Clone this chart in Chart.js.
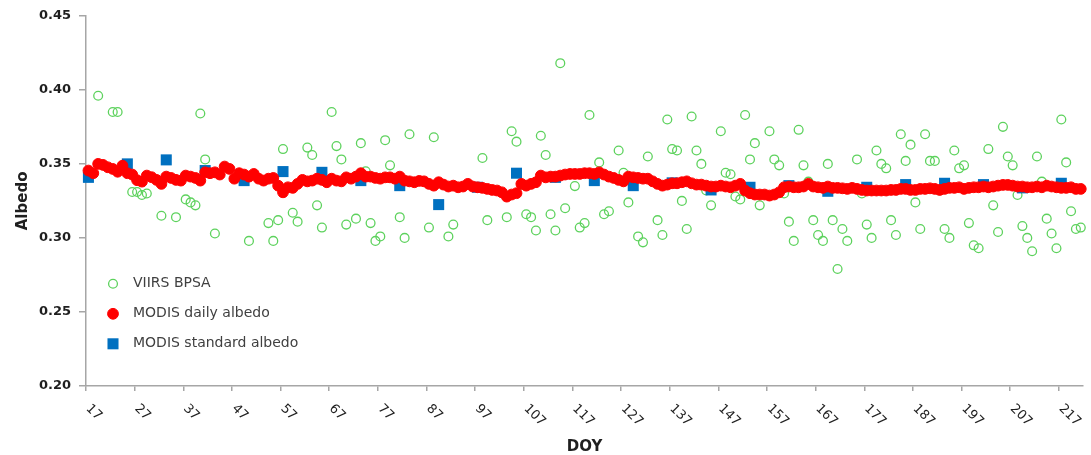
<!DOCTYPE html>
<html><head><meta charset="utf-8">
<script src="https://cdn.jsdelivr.net/npm/chart.js@4/dist/chart.umd.min.js"></script>
<style>html,body{margin:0;padding:0;background:#fff;} #wrap{width:1091px;height:455px;position:relative;}</style>
</head><body><div id="wrap"><canvas id="c"></canvas></div>
<script>
// ---- data ----
const xTickLabels = [17,27,37,47,57,67,77,87,97,107,117,127,137,147,157,167,177,187,197,207,217];
const yTicks = [0.20,0.25,0.30,0.35,0.40,0.45];

const viirsDoy = [19,22,23,26,27,28,29,32,35,37,38,39,40,41,43,50,54,55,56,57,59,60,62,63,64,65,67,68,69,70,72,73,74,75,76,77,78,79,81,82,83,87,88,91,92,98,99,103,104,105,106,107,108,109,110,111,112,113,114,115,117,118,119,120,122,123,124,126,127,128,130,131,132,134,135,136,137,138,139,140,141,142,143,144,145,147,148,149,150,151,152,153,154,155,157,158,159,160,161,162,163,164,165,166,167,168,169,170,171,172,173,175,176,177,178,179,180,181,182,183,184,185,186,187,188,189,190,191,192,193,194,195,196,197,198,199,200,202,203,204,205,206,207,208,209,210,211,212,213,214,215,216,217,218,219,220,221];
const viirsAlbedo = [0.396,0.385,0.385,0.331,0.331,0.329,0.330,0.315,0.314,0.326,0.324,0.322,0.384,0.353,0.303,0.298,0.310,0.298,0.312,0.360,0.317,0.311,0.361,0.356,0.322,0.307,0.385,0.362,0.353,0.309,0.313,0.364,0.345,0.310,0.298,0.301,0.366,0.349,0.314,0.300,0.370,0.307,0.368,0.301,0.309,0.354,0.312,0.314,0.372,0.365,0.336,0.316,0.314,0.305,0.369,0.356,0.316,0.305,0.418,0.320,0.335,0.307,0.310,0.383,0.351,0.316,0.318,0.359,0.344,0.324,0.301,0.297,0.355,0.312,0.302,0.380,0.360,0.359,0.325,0.306,0.382,0.359,0.350,0.332,0.322,0.372,0.344,0.343,0.328,0.326,0.383,0.353,0.364,0.322,0.372,0.353,0.349,0.330,0.311,0.298,0.373,0.349,0.338,0.312,0.302,0.298,0.350,0.312,0.279,0.306,0.298,0.353,0.330,0.309,0.300,0.359,0.350,0.347,0.312,0.302,0.370,0.352,0.363,0.324,0.306,0.370,0.352,0.352,0.332,0.306,0.300,0.359,0.347,0.349,0.310,0.295,0.293,0.360,0.322,0.304,0.375,0.355,0.349,0.329,0.308,0.300,0.291,0.355,0.338,0.313,0.303,0.293,0.380,0.351,0.318,0.306,0.307];

const modisDailyFirstDoy = 17;
const modisDailyAlbedo = [
0.3455,0.3437,0.3500,0.3493,0.3477,0.3466,0.3447,0.3488,0.3437,0.3428,
0.3390,0.3380,0.3421,0.3410,0.3392,0.3365,0.3414,0.3405,0.3392,0.3387,
0.3421,0.3414,0.3405,0.3387,0.3443,0.3437,0.3443,0.3428,0.3482,0.3466,
0.3400,0.3437,0.3428,0.3414,0.3432,0.3400,0.3387,0.3400,0.3405,0.3353,
0.3308,0.3342,0.3338,0.3365,0.3392,0.3382,0.3387,0.3400,0.3392,0.3376,
0.3400,0.3387,0.3382,0.3409,0.3400,0.3414,0.3437,0.3414,0.3414,0.3405,
0.3400,0.3409,0.3409,0.3400,0.3414,0.3387,0.3382,0.3376,0.3385,0.3382,
0.3365,0.3353,0.3376,0.3360,0.3347,0.3353,0.3342,0.3347,0.3365,0.3347,
0.3342,0.3338,0.3331,0.3324,0.3320,0.3308,0.3279,0.3293,0.3302,0.3365,
0.3353,0.3365,0.3376,0.3421,0.3409,0.3414,0.3414,0.3421,0.3428,0.3432,
0.3432,0.3432,0.3437,0.3437,0.3432,0.3443,0.3428,0.3414,0.3405,0.3392,
0.3382,0.3414,0.3409,0.3405,0.3400,0.3400,0.3382,0.3365,0.3353,0.3360,
0.3369,0.3369,0.3376,0.3382,0.3369,0.3360,0.3360,0.3353,0.3347,0.3347,
0.3353,0.3347,0.3342,0.3353,0.3365,0.3320,0.3302,0.3293,0.3293,0.3293,
0.3286,0.3293,0.3308,0.3342,0.3347,0.3342,0.3342,0.3347,0.3365,0.3347,
0.3342,0.3338,0.3347,0.3338,0.3338,0.3335,0.3331,0.3338,0.3331,0.3324,
0.3320,0.3320,0.3320,0.3320,0.3320,0.3324,0.3324,0.3331,0.3331,0.3324,
0.3324,0.3331,0.3331,0.3335,0.3331,0.3324,0.3331,0.3338,0.3338,0.3342,
0.3331,0.3338,0.3342,0.3342,0.3347,0.3342,0.3347,0.3353,0.3358,0.3358,
0.3353,0.3347,0.3347,0.3342,0.3342,0.3347,0.3342,0.3353,0.3347,0.3342,
0.3338,0.3338,0.3342,0.3331,0.3331];

const modisStdDoy = [17,25,33,41,49,57,65,73,81,89,97,105,113,121,129,137,145,153,161,169,177,185,193,201,209,217];
const modisStdAlbedo = [0.3409,0.3500,0.3527,0.3455,0.3387,0.3448,0.3443,0.3387,0.3353,0.3225,0.3342,0.3437,0.3409,0.3387,0.3353,0.3372,0.3324,0.3342,0.3353,0.3315,0.3342,0.3360,0.3369,0.3360,0.3338,0.3369];

const seriesNames = ['VIIRS BPSA','MODIS daily albedo','MODIS standard albedo'];

// ---- build ----
const zip = (xs, ys) => xs.map((x, i) => ({x: x, y: ys[i]}));
const dailyPts = modisDailyAlbedo.map((v, i) => ({x: modisDailyFirstDoy + i, y: v}));

const GREEN = '#5dd25d', RED = '#ff0000', BLUE = '#0070c0', AXIS = '#a6a6a6';

const overlay = {
  id: 'overlay',
  afterDraw(chart) {
    const ctx = chart.ctx, xs = chart.scales.x, ca = chart.chartArea;
    ctx.save();
    ctx.font = '13px "DejaVu Sans"';
    ctx.fillStyle = '#1f1f1f';
    ctx.textAlign = 'left';
    ctx.textBaseline = 'middle';
    xTickLabels.forEach(l => {
      const px = xs.getPixelForValue(l - 0.5);
      ctx.save();
      ctx.translate(px + 2, ca.bottom + 20.5);
      ctx.rotate(Math.PI / 4);
      ctx.fillText(String(l), 0, 0);
      ctx.restore();
    });
    // legend
    const mx = ca.left + 27, tx = ca.left + 47;
    const rows = [ca.top + 268, ca.top + 298, ca.top + 328];
    ctx.font = '14px "DejaVu Sans"';
    ctx.fillStyle = '#404040';
    chart.data.datasets.forEach((ds, i) => {
      const y = rows[i];
      ctx.save();
      ctx.lineWidth = ds.borderWidth;
      ctx.strokeStyle = ds.borderColor;
      ctx.fillStyle = ds.backgroundColor;
      if (ds.pointStyle === 'rect') {
        const s = Math.SQRT1_2 * ds.radius;
        ctx.fillRect(mx - s, y - s, 2 * s, 2 * s);
      } else {
        ctx.beginPath();
        ctx.arc(mx, y, ds.radius, 0, Math.PI * 2);
        ctx.fill();
        ctx.stroke();
      }
      ctx.restore();
      ctx.fillText(ds.label, tx, y);
    });
    ctx.restore();
  }
};

new Chart(document.getElementById('c'), {
  type: 'scatter',
  data: {
    datasets: [
      {label: seriesNames[0], data: zip(viirsDoy, viirsAlbedo), pointStyle: 'circle', radius: 4.4, borderWidth: 1.3,
       borderColor: GREEN, backgroundColor: 'rgba(255,255,255,0)', order: 3, clip: false},
      {label: seriesNames[1], data: dailyPts, pointStyle: 'circle', radius: 5.4, borderWidth: 1,
       borderColor: RED, backgroundColor: RED, order: 1, clip: false},
      {label: seriesNames[2], data: zip(modisStdDoy, modisStdAlbedo), pointStyle: 'rect', radius: 7.8, borderWidth: 0,
       borderColor: BLUE, backgroundColor: BLUE, order: 2, clip: false}
    ]
  },
  options: {
    responsive: true, maintainAspectRatio: false, animation: false, events: [],
    layout: {padding: {top: 15, right: 7, left: 0, bottom: 0}},
    plugins: {legend: {display: false}, tooltip: {enabled: false}},
    scales: {
      x: {
        type: 'linear', min: 16.5, max: 221.5,
        afterBuildTicks: s => { s.ticks = xTickLabels.map(v => ({value: v - 0.5})); },
        afterFit: s => { s.height = 69; },
        ticks: {display: false},
        grid: {drawOnChartArea: false, drawTicks: true, tickLength: 5, color: AXIS, lineWidth: 1.5},
        border: {display: true, color: AXIS, width: 1.5},
        title: {display: true, text: 'DOY', color: '#1f1f1f', font: {family: '"DejaVu Sans"', size: 15, weight: 'bold', lineHeight: 1}, padding: {top: 0, bottom: 0}}
      },
      y: {
        type: 'linear', min: 0.2, max: 0.45,
        afterBuildTicks: s => { s.ticks = yTicks.map(v => ({value: v})); },
        afterFit: s => { s.width = 86; },
        ticks: {callback: v => Number(v).toFixed(2), color: '#1f1f1f', padding: 8,
                font: {family: '"DejaVu Sans"', size: 13, weight: 'bold'}},
        grid: {drawOnChartArea: false, drawTicks: true, tickLength: 7, color: AXIS, lineWidth: 1.5},
        border: {display: true, color: AXIS, width: 1.5},
        title: {display: true, text: 'Albedo', color: '#1f1f1f', font: {family: '"DejaVu Sans"', size: 15, weight: 'bold', lineHeight: 1}, padding: {top: 16, bottom: 0}}
      }
    }
  },
  plugins: [overlay]
});
</script>
</body></html>
